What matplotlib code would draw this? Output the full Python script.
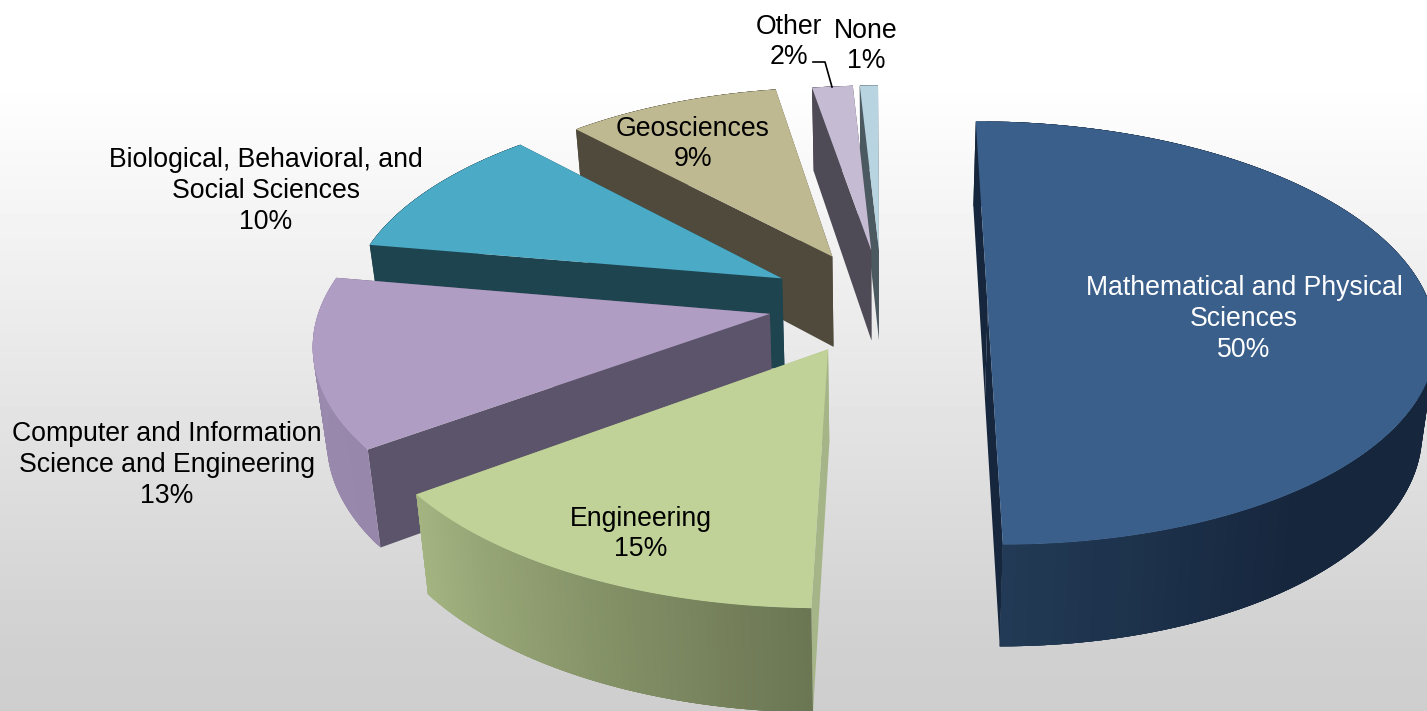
"""Exploded 3D pie of shares by field, drawn through a small perspective projection."""

import matplotlib

matplotlib.use("Agg")

import matplotlib.pyplot as plt
import numpy as np
from matplotlib.colors import LinearSegmentedColormap

plt.rcParams["font.family"] = ["Liberation Sans", "DejaVu Sans"]

categories = [
    "Mathematical and Physical\nSciences",
    "Engineering",
    "Computer and Information\nScience and Engineering",
    "Biological, Behavioral, and\nSocial Sciences",
    "Geosciences",
    "Other",
    "None",
]
# the labels show them rounded
shares = [50.0, 14.6, 12.8, 10.3, 9.3, 1.8, 0.8]

# pie layout, one entry per slice
explode = [0.235, 0.22, 0.245, 0.266, 0.276, 0.28, 0.28]
radius = [0.99, 1.02, 1.005, 0.975, 0.95, 0.93, 0.93]
spin = [0.0, 1.0, 1.3, 1.3, 1.3, 1.3, 1.3]  # degrees
nudge_u = [0.0, -0.018, -0.012, 0.006, 0.007, 0.005, 0.0]
nudge_v = [0.0, 0.0, -0.024, -0.012, 0.0, 0.0, 0.0]
top_colors = ["#3a5f8b", "#c0d297", "#af9dc3", "#4baac6", "#bfb992", "#c5bbd3", "#b7d4e0"]
face_colors = ["#16263d", "#a6b588", "#5c546b", "#1d444f", "#4f4a3b", "#4f4b56", "#4a5a60"]
wall_colors = [
    [(0.0, "#16263d"), (0.8, "#16263d"), (1.0, "#223a55")],
    [(0.0, "#6b7653"), (1.0, "#a4b481")],
    [(0.0, "#9787aa"), (1.0, "#9b8bae")],
    [(0.0, "#1d444f"), (1.0, "#1d444f")],
    [(0.0, "#4f4a3b"), (1.0, "#4f4a3b")],
    [(0.0, "#4f4b56"), (1.0, "#4f4b56")],
    [(0.0, "#4a5a60"), (1.0, "#4a5a60")],
]
label_xy = [(1244, 319), (641, 534), (167, 465), (266, 191), (693, 144), (789, 42), (866, 46)]
label_colors = ["white", "black", "black", "black", "black", "black", "black"]

# projection constants, fitted in pixels
VANISH_X = 878.0
VANISH_Y = -1405.0
SCALE_U = 455.0
SCALE_V = 1740.0
TILT = 0.125
CENTER = (0.01, -0.13)


def project(u, v):
    w = 1.0 - TILT * v
    return VANISH_X + SCALE_U * u / w, VANISH_Y + SCALE_V / w


def drop(x, y):
    # the lower rim of the pie sits under the upper one
    return x - 0.025 * (x - VANISH_X), y + 80.0 + 0.04 * y


def fill(ax, x, y, color, zorder):
    ax.fill(x, y, facecolor=color, edgecolor="none", lw=0, zorder=zorder)


def draw_slice(ax, idx, start, stop, zorder):
    mid = 0.5 * (start + stop)
    cu = CENTER[0] + explode[idx] * np.sin(mid) + nudge_u[idx]
    cv = CENTER[1] - explode[idx] * np.cos(mid) + nudge_v[idx]
    theta = np.linspace(start, stop, 120)
    rim_x, rim_y = project(cu + radius[idx] * np.sin(theta), cv - radius[idx] * np.cos(theta))
    low_x, low_y = drop(rim_x, rim_y)
    apex_x, apex_y = project(cu, cv)
    apex_low_x, apex_low_y = drop(apex_x, apex_y)

    # the two cut faces
    for k in (0, -1):
        fill(
            ax,
            [apex_x, rim_x[k], low_x[k], apex_low_x],
            [apex_y, rim_y[k], low_y[k], apex_low_y],
            face_colors[idx],
            zorder,
        )

    # the outer wall, in overlapping strips so no seams show in the shading
    cmap = LinearSegmentedColormap.from_list(f"wall{idx}", wall_colors[idx])
    for k in range(len(theta) - 1):
        end = min(k + 4, len(theta) - 1)
        fill(
            ax,
            np.r_[rim_x[k : end + 1], low_x[k : end + 1][::-1]],
            np.r_[rim_y[k : end + 1], low_y[k : end + 1][::-1]],
            cmap(k / (len(theta) - 2)),
            zorder + 0.1,
        )

    fill(ax, np.r_[apex_x, rim_x], np.r_[apex_y, rim_y], top_colors[idx], zorder + 0.2)


def main():
    fig = plt.figure(figsize=(14.27, 7.11), dpi=100)
    ax = fig.add_axes([0, 0, 1, 1])
    ax.set_xlim(0, 1427)
    ax.set_ylim(711, 0)
    ax.axis("off")

    # backdrop: white at the top, fading to light grey
    rows = np.arange(711)
    shade = np.interp(rows, [80, 650, 711], [255, 208, 206]) / 255.0
    ax.imshow(
        shade[:, None],
        cmap="gray",
        vmin=0,
        vmax=1,
        extent=(0, 1427, 711, 0),
        aspect="auto",
        zorder=0,
    )

    cumulative = np.r_[0, np.cumsum(shares)] * 3.6
    for rank, idx in enumerate(range(len(shares) - 1, -1, -1)):
        start = np.radians(cumulative[idx] + spin[idx])
        stop = np.radians(cumulative[idx + 1] + spin[idx])
        draw_slice(ax, idx, start, stop, 2 + rank)

    # leader line for the small slice
    ax.plot([813, 825, 832], [62, 62, 87], color="black", lw=1.2, zorder=20)

    for name, share, xy, color in zip(categories, shares, label_xy, label_colors):
        ax.text(
            xy[0],
            xy[1],
            f"{name}\n{round(share)}%",
            ha="center",
            va="center",
            ma="center",
            fontsize=19.2,
            color=color,
            linespacing=1.24,
            zorder=30,
        )

    fig.savefig("out.png", dpi=100)
    plt.close(fig)


if __name__ == "__main__":
    main()
